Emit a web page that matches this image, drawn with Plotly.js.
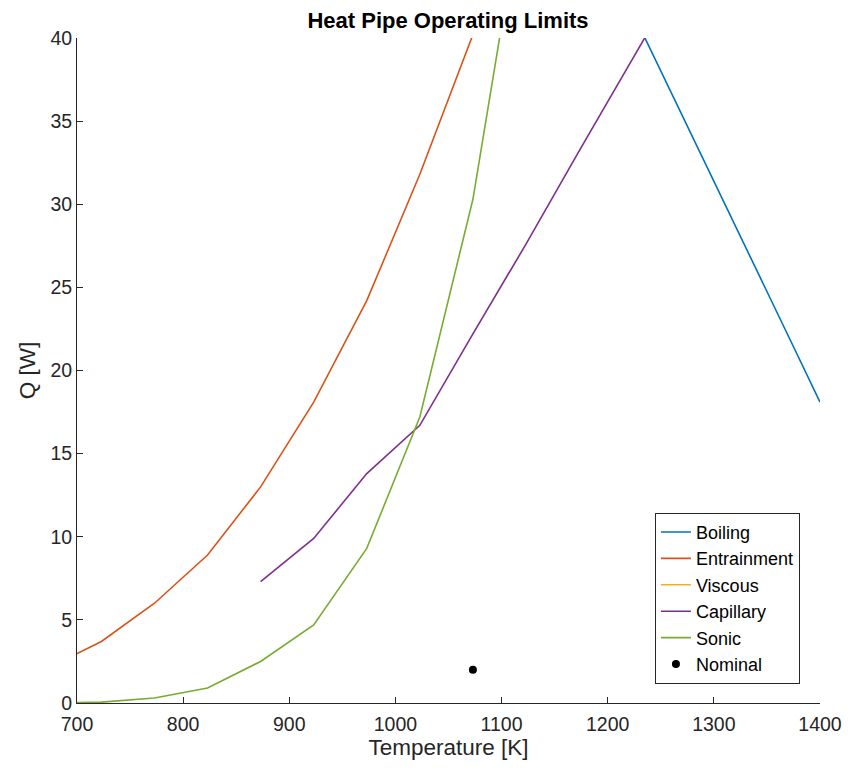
<!DOCTYPE html>
<html>
<head>
<meta charset="utf-8">
<script src="https://cdn.plot.ly/plotly-3.0.1.min.js"></script>
<style>html,body{margin:0;padding:0;background:#fff;}#chart{width:855px;height:768px;}</style>
</head>
<body>
<div id="chart"></div>
<script>
// Data (Temperature [K], Q [W])
const boilingT = [1223, 1273, 1323, 1373, 1400];
const boilingQ = [41.6, 35.0, 28.4, 21.7, 18.1];

const entrainmentT = [673, 723, 773, 823, 873, 923, 973, 1023, 1073];
const entrainmentQ = [2.1, 3.7, 6.0, 8.9, 13.0, 18.1, 24.2, 31.8, 40.2];

// Viscous limit lies entirely above the plotted range (off-chart)
const viscousT = [673, 723, 773];
const viscousQ = [60, 150, 400];

const capillaryT = [873, 923, 973, 1023, 1073, 1123, 1173, 1223, 1273];
const capillaryQ = [7.3, 9.9, 13.8, 16.7, 22.2, 27.6, 33.2, 38.7, 44.2];

const sonicT = [673, 723, 773, 823, 873, 923, 973, 1023, 1073, 1123];
const sonicQ = [0.0, 0.05, 0.3, 0.9, 2.5, 4.7, 9.3, 17.2, 30.3, 49.6];

const nominalT = [1073];
const nominalQ = [2];

const xTicks = [700, 800, 900, 1000, 1100, 1200, 1300, 1400];
const yTicks = [0, 5, 10, 15, 20, 25, 30, 35, 40];

const FONT = "Liberation Sans, Arial, sans-serif";
const AX = "#262626";

const traces = [
  {name: "Boiling", x: boilingT, y: boilingQ, mode: "lines", line: {color: "#0072BD", width: 1.6}},
  {name: "Entrainment", x: entrainmentT, y: entrainmentQ, mode: "lines", line: {color: "#D95319", width: 1.6}},
  {name: "Viscous", x: viscousT, y: viscousQ, mode: "lines", line: {color: "#EDB120", width: 1.6}},
  {name: "Capillary", x: capillaryT, y: capillaryQ, mode: "lines", line: {color: "#7E2F8E", width: 1.6}},
  {name: "Sonic", x: sonicT, y: sonicQ, mode: "lines", line: {color: "#77AC30", width: 1.6}},
  {name: "Nominal", x: nominalT, y: nominalQ, mode: "markers", marker: {color: "#000000", size: 8}}
];

const layout = {
  width: 855, height: 768,
  margin: {l: 77, r: 35, t: 38, b: 65},
  paper_bgcolor: "#ffffff", plot_bgcolor: "#ffffff",
  font: {family: FONT, color: AX, size: 18},
  showlegend: true,
  title: {text: "<b>Heat Pipe Operating Limits</b>", font: {family: FONT, size: 22, color: "#000"}, x: 0.524, xanchor: "center", y: 0.974, yanchor: "middle"},
  xaxis: {
    range: [700, 1400], tickvals: xTicks, ticktext: xTicks.map(String),
    showgrid: false, zeroline: false, showline: true, linecolor: AX, linewidth: 1,
    ticks: "inside", ticklen: 6, tickcolor: AX, tickfont: {size: 19.5, color: AX},
    ticklabelstandoff: 4,
    title: {text: "Temperature [K]", font: {size: 22.5, color: AX}, standoff: 2}
  },
  yaxis: {
    range: [0, 40], tickvals: yTicks, ticktext: yTicks.map(String),
    showgrid: false, zeroline: false, showline: true, linecolor: AX, linewidth: 1,
    ticks: "inside", ticklen: 6, tickcolor: AX, tickfont: {size: 19.5, color: AX},
    title: {text: "Q [W]", font: {size: 22.5, color: AX}, standoff: 8}
  },
  legend: {
    x: 0.973, xanchor: "right", y: 0.286, yanchor: "top",
    bgcolor: "#ffffff", bordercolor: AX, borderwidth: 1,
    font: {size: 18, color: "#000"}, itemwidth: 30
  }
};

Plotly.newPlot("chart", traces, layout, {displayModeBar: false, staticPlot: true});
</script>
</body>
</html>
